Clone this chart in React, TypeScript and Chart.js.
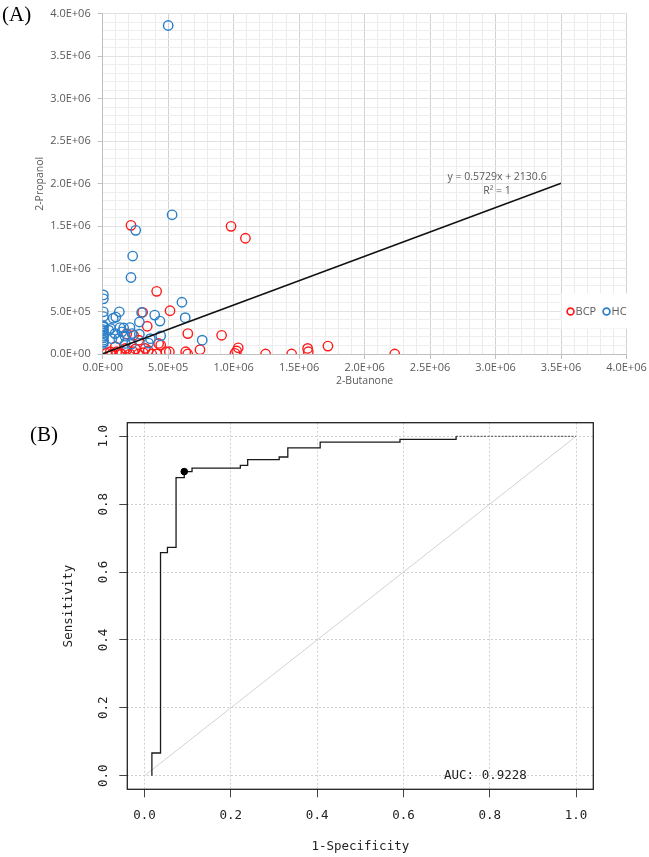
import React, { useEffect, useRef } from 'react';
import { Chart, registerables } from 'chart.js';

Chart.register(...registerables);

// ---------- Panel A data (2-Butanone vs 2-Propanol) ----------
const bcpX = [216000, 980000, 1090000, 412000, 514000, 305000, 340000, 650000, 908000, 236000, 183000, 443000, 743000, 1035000, 1023000, 1010000, 1244000, 1443000, 1565000, 1570000, 1720000, 2230000, 634000, 649000, 69000, 107000, 145000, 183000, 208000, 234000, 272000, 310000, 348000, 374000, 412000, 483000, 509000, 58000, 96000, 134000, 173000, 325000, 427000, 275000, 30000, 250000];
const bcpY = [1512000, 1500000, 1360000, 736000, 508000, 490000, 326000, 240000, 220000, 220000, 236000, 105000, 50000, 73000, 35000, 8000, 0, 0, 66000, 27000, 93000, 0, 27000, 0, 0, 27000, 0, 47000, 0, 27000, 0, 15000, 38000, 0, 0, 27000, 27000, 27000, 85000, 8000, 66000, 66000, 124000, 163000, 10000, 60000];
const hcX = [500000, 530000, 252000, 229000, 216000, 5000, 5000, 605000, 5000, 5000, 80000, 127000, 297000, 397000, 437000, 630000, 280000, 5000, 5000, 5000, 5000, 5000, 5000, 132000, 208000, 94000, 280000, 443000, 760000, 350000, 170000, 147000, 220000, 46000, 70000, 122000, 160000, 224000, 364000, 100000, 173000, 5000, 5000, 5000, 5000, 60000];
const hcY = [3860000, 1636000, 1453000, 1151000, 899000, 694000, 648000, 608000, 496000, 440000, 420000, 496000, 488000, 457000, 387000, 427000, 376000, 318000, 287000, 248000, 210000, 163000, 124000, 310000, 310000, 240000, 233000, 213000, 163000, 128000, 210000, 260000, 116000, 280000, 180000, 180000, 306000, 240000, 180000, 434000, 124000, 330000, 270000, 190000, 140000, 300000];
const trendSlope = 0.5729;
const trendIntercept = 2130.6;
const trendXRange = [0, 3500000];
const equationLines = ['y = 0.5729x + 2130.6', 'R\u00b2 = 1'];
const seriesLabels = ['BCP', 'HC'];
const scatterMax = 4000000;
const scatterMajor = 500000;
const scatterMinor = 100000;

// ---------- Panel B data (ROC) ----------
const rocFpr = [0.017, 0.017, 0.037, 0.053, 0.073, 0.092, 0.11, 0.222, 0.239, 0.312, 0.332, 0.407, 0.592, 0.722];
const rocTpr = [0.0, 0.067, 0.657, 0.673, 0.878, 0.896, 0.906, 0.914, 0.931, 0.939, 0.966, 0.983, 0.991, 1.0];
const rocTailFpr = [0.722, 1.0];
const rocTailTpr = [1.0, 1.0];
const diagX = [0, 1];
const diagY = [0, 1];
const bestPoint = { x: 0.092, y: 0.896 };
const rocTicks = [0, 0.2, 0.4, 0.6, 0.8, 1.0];
const aucLabel = 'AUC: 0.9228';
const aucPos = { x: 0.79, y: 0.0 };

const GRAY = '#595959';
const SANS = '"Open Sans", "Noto Sans", sans-serif';
const MONO = '"DejaVu Sans Mono", monospace';

function fmtSci(v: number): string {
  if (v === 0) return '0.0E+00';
  const e = Math.floor(Math.log10(v) + 1e-9);
  const m = v / Math.pow(10, e);
  return `${m.toFixed(1)}E+${String(e).padStart(2, '0')}`;
}

function gridTicks(): { value: number }[] {
  const out: { value: number }[] = [];
  for (let v = 0; v <= scatterMax + 1; v += scatterMinor) out.push({ value: v });
  return out;
}

const isMajor = (v: number) => Math.abs(v % scatterMajor) < 1;

const scatterExtras = {
  id: 'scatterExtras',
  afterDatasetsDraw(chart: any) {
    const { ctx, scales } = chart;
    ctx.save();
    // equation
    const ex = scales.x.getPixelForValue(trendXRange[1]);
    const ey = scales.y.getPixelForValue(trendSlope * trendXRange[1] + trendIntercept);
    ctx.fillStyle = GRAY;
    ctx.font = `10.5px ${SANS}`;
    ctx.textAlign = 'center';
    ctx.textBaseline = 'middle';
    ctx.fillText(equationLines[0], ex - 64, ey - 6);
    ctx.fillText(equationLines[1], ex - 64, ey + 7.5);
    // legend
    const lx = scales.x.getPixelForValue(3500000);
    const ly = scales.y.getPixelForValue(500000);
    ctx.fillStyle = '#ffffff';
    ctx.fillRect(lx + 0.5, ly - 18, 66, 35);
    const items = chart.data.datasets.slice(0, 2);
    let x = lx + 9.5;
    const y = ly;
    items.forEach((ds: any) => {
      ctx.beginPath();
      ctx.arc(x, y, 3.4, 0, Math.PI * 2);
      ctx.strokeStyle = ds.pointBorderColor;
      ctx.lineWidth = 1.7;
      ctx.stroke();
      ctx.fillStyle = GRAY;
      ctx.textAlign = 'left';
      ctx.textBaseline = 'middle';
      ctx.font = `11px ${SANS}`;
      ctx.fillText(ds.label, x + 5, y + 0.5);
      x += 36;
    });
    ctx.restore();
  },
};

const rocExtras = {
  id: 'rocExtras',
  afterDraw(chart: any) {
    const { ctx, chartArea, scales } = chart;
    ctx.save();
    ctx.strokeStyle = '#222';
    ctx.lineWidth = 1.3;
    ctx.strokeRect(chartArea.left, chartArea.top, chartArea.right - chartArea.left, chartArea.bottom - chartArea.top);
    ctx.fillStyle = '#222';
    ctx.font = `12.5px ${MONO}`;
    ctx.textAlign = 'center';
    ctx.textBaseline = 'middle';
    scales.y.ticks.forEach((t: any) => {
      const py = scales.y.getPixelForValue(t.value);
      ctx.save();
      ctx.translate(chartArea.left - 23.5, py);
      ctx.rotate(-Math.PI / 2);
      ctx.fillText(t.value.toFixed(1), 0, 0);
      ctx.restore();
    });
    ctx.fillText(aucLabel, scales.x.getPixelForValue(aucPos.x), scales.y.getPixelForValue(aucPos.y));
    ctx.restore();
  },
};

export default function App() {
  const refA = useRef<HTMLCanvasElement>(null);
  const refB = useRef<HTMLCanvasElement>(null);

  useEffect(() => {
    const chartA = new Chart(refA.current as HTMLCanvasElement, {
      type: 'scatter',
      data: {
        datasets: [
          {
            label: seriesLabels[0],
            data: bcpX.map((x, i) => ({ x, y: bcpY[i] })),
            pointBorderColor: '#ff1a1a',
            pointBackgroundColor: 'rgba(0,0,0,0)',
            pointBorderWidth: 1.4,
            pointRadius: 4.7,
            order: 2,
          } as any,
          {
            label: seriesLabels[1],
            data: hcX.map((x, i) => ({ x, y: hcY[i] })),
            pointBorderColor: '#2a7fc9',
            pointBackgroundColor: 'rgba(0,0,0,0)',
            pointBorderWidth: 1.4,
            pointRadius: 4.7,
            order: 1,
          } as any,
          {
            label: 'trend',
            data: trendXRange.map((x) => ({ x, y: trendSlope * x + trendIntercept })),
            showLine: true,
            borderColor: '#111',
            borderWidth: 1.5,
            pointRadius: 0,
            order: 0,
          } as any,
        ],
      },
      options: {
        animation: false,
        responsive: false,
        maintainAspectRatio: false,
        events: [],
        layout: { padding: { left: 0, top: 10, right: 22.5, bottom: 0 } },
        plugins: { legend: { display: false }, tooltip: { enabled: false } },
        scales: {
          x: {
            type: 'linear',
            min: 0,
            max: scatterMax,
            afterFit: (s: any) => { s.height = 46; },
            afterBuildTicks: (s: any) => { s.ticks = gridTicks(); },
            ticks: {
              autoSkip: false,
              maxRotation: 0,
              minRotation: 0,
              padding: 2,
              color: GRAY,
              font: { family: SANS, size: 11 },
              callback: (v: any) => (isMajor(Number(v)) ? fmtSci(Number(v)) : ''),
            },
            grid: {
              color: (c: any) => (isMajor(c.tick?.value ?? 0) ? '#d3d3d3' : '#ececec'),
              lineWidth: 1,
              tickLength: 5,
              tickColor: (c: any) => (isMajor(c.tick?.value ?? 0) ? '#bfbfbf' : 'rgba(0,0,0,0)'),
            },
            border: { color: '#bfbfbf' },
            title: { display: true, text: '2-Butanone', color: GRAY, font: { family: SANS, size: 10.5 }, padding: { top: 0, bottom: 13 } },
          },
          y: {
            type: 'linear',
            min: 0,
            max: scatterMax,
            afterFit: (s: any) => { s.width = 102.7; },
            afterBuildTicks: (s: any) => { s.ticks = gridTicks(); },
            ticks: {
              autoSkip: false,
              padding: 7,
              color: GRAY,
              font: { family: SANS, size: 11 },
              callback: (v: any) => (isMajor(Number(v)) ? fmtSci(Number(v)) : ''),
            },
            grid: {
              color: (c: any) => (isMajor(c.tick?.value ?? 0) ? '#e2e2e2' : '#eeeeee'),
              lineWidth: 1,
              tickLength: 5,
              tickColor: (c: any) => (isMajor(c.tick?.value ?? 0) ? '#bfbfbf' : 'rgba(0,0,0,0)'),
            },
            border: { color: '#bfbfbf' },
            title: { display: true, text: '2-Propanol', color: GRAY, font: { family: SANS, size: 10.5 }, padding: { top: 34, bottom: 0 } },
          },
        },
      } as any,
      plugins: [scatterExtras],
    });

    const chartB = new Chart(refB.current as HTMLCanvasElement, {
      type: 'line',
      data: {
        datasets: [
          {
            label: 'diag',
            data: diagX.map((x, i) => ({ x, y: diagY[i] })),
            borderColor: '#d2d2d2',
            borderWidth: 1,
            pointRadius: 0,
            order: 3,
          },
          {
            label: 'ROC',
            data: rocFpr.map((x, i) => ({ x, y: rocTpr[i] })),
            borderColor: '#1a1a1a',
            borderWidth: 1.3,
            pointRadius: 0,
            stepped: 'before',
            order: 1,
          } as any,
          {
            label: 'tail',
            data: rocTailFpr.map((x, i) => ({ x, y: rocTailTpr[i] })),
            borderColor: '#666',
            borderWidth: 1.3,
            borderDash: [2, 1.5],
            pointRadius: 0,
            order: 2,
          },
          {
            label: 'best',
            data: [bestPoint],
            showLine: false,
            pointRadius: 3.3,
            pointBackgroundColor: '#000',
            pointBorderColor: '#000',
            order: 0,
          } as any,
        ],
      },
      options: {
        animation: false,
        responsive: false,
        maintainAspectRatio: false,
        events: [],
        layout: { padding: { left: 0, top: 22.7, right: 55.7, bottom: 0 } },
        plugins: { legend: { display: false }, tooltip: { enabled: false } },
        scales: {
          x: {
            type: 'linear',
            min: -0.04,
            max: 1.04,
            afterFit: (s: any) => { s.height = 67.7; },
            afterBuildTicks: (s: any) => { s.ticks = rocTicks.map((value) => ({ value })); },
            ticks: {
              autoSkip: false,
              maxRotation: 0,
              padding: 11,
              color: '#222',
              font: { family: MONO, size: 12.5 },
              callback: (v: any) => Number(v).toFixed(1),
            },
            grid: { color: '#d0d0d0', lineWidth: 1, tickLength: 8, tickColor: '#444', tickBorderDash: [] },
            border: { display: false, dash: [2, 2] },
            title: { display: true, text: '1-Specificity', color: '#222', font: { family: MONO, size: 12.5 }, padding: { top: 0, bottom: 2.5 } },
          },
          y: {
            type: 'linear',
            min: -0.04,
            max: 1.04,
            afterFit: (s: any) => { s.width = 127.3; },
            afterBuildTicks: (s: any) => { s.ticks = rocTicks.map((value) => ({ value })); },
            ticks: { color: 'rgba(0,0,0,0)', font: { family: MONO, size: 12.5 }, callback: (v: any) => Number(v).toFixed(1) },
            grid: { color: '#d0d0d0', lineWidth: 1, tickLength: 8, tickColor: '#444', tickBorderDash: [] },
            border: { display: false, dash: [2, 2] },
            title: { display: true, text: 'Sensitivity', color: '#222', font: { family: MONO, size: 12.5 }, padding: { top: 60.8, bottom: 0 } },
          },
        },
      } as any,
      plugins: [rocExtras],
    });

    return () => {
      chartA.destroy();
      chartB.destroy();
    };
  }, []);

  const panelLabel: React.CSSProperties = {
    position: 'absolute',
    fontFamily: '"Liberation Serif", "Times New Roman", serif',
    fontSize: 21,
    lineHeight: '24px',
    color: '#000',
  };

  return (
    <div style={{ position: 'absolute', left: 0, top: 0, width: 649, height: 857, background: '#fff', overflow: 'hidden' }}>
      <canvas ref={refA} width={649} height={400} style={{ position: 'absolute', left: 0, top: 0, width: 649, height: 400 }} />
      <canvas ref={refB} width={649} height={457} style={{ position: 'absolute', left: 0, top: 400, width: 649, height: 457 }} />
      <div style={{ ...panelLabel, left: 2, top: 2 }}>(A)</div>
      <div style={{ ...panelLabel, left: 30, top: 422 }}>(B)</div>
    </div>
  );
}
